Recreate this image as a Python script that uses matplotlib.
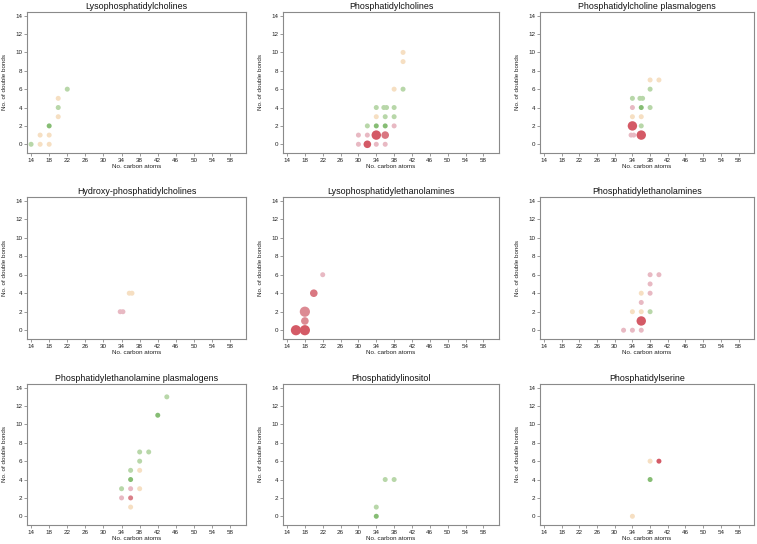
import matplotlib
matplotlib.use("Agg")
import matplotlib.pyplot as plt
from matplotlib.colors import LinearSegmentedColormap, Normalize
import numpy as np

plt.rcParams['font.family'] = ['Liberation Sans', 'DejaVu Sans']

titles = ["Lysophosphatidylcholines", "Phosphatidylcholines", "Phosphatidylcholine plasmalogens",
          "Hydroxy-phosphatidylcholines", "Lysophosphatidylethanolamines", "Phosphatidylethanolamines",
          "Phosphatidylethanolamine plasmalogens", "Phosphatidylinositol", "Phosphatidylserine"]

x_ticks = [14, 18, 22, 26, 30, 34, 38, 42, 46, 50, 54, 58]
y_ticks = [0, 2, 4, 6, 8, 10, 12, 14]

# Lysophosphatidylcholines
lpc_c = [14, 16, 18, 16, 18, 18, 20, 20, 20, 22]
lpc_db = [0, 0, 0, 1, 1, 2, 3, 4, 5, 6]
lpc_fc = [1, 0, 0, 0, 0, 2, 0, 1, 0, 1]
lpc_sig = [1, 1, 1, 1, 1, 1, 1, 1, 1, 1]

# Phosphatidylcholines
pc_c = [30, 32, 34, 36, 30, 32, 34, 36, 32, 34, 36, 38, 34, 36, 38, 34, 35.7, 36.3, 38, 38, 40, 40, 40]
pc_db = [0, 0, 0, 0, 1, 1, 1, 1, 2, 2, 2, 2, 3, 3, 3, 4, 4, 4, 4, 6, 6, 9, 10]
pc_fc = [-1, -2, -1, -1, -1, -1, -2, -1.7, 1, 2, 2, -1, 0, 1, 1, 1, 1, 1, 1, 0, 1, 0, 0]
pc_sig = [1, 2, 1, 1, 1, 1, 3, 2, 1, 1, 1, 1, 1, 1, 1, 1, 1, 1, 1, 1, 1, 1, 1]

# Phosphatidylcholine plasmalogens
pcp_c = [33.7, 34.3, 36, 34, 36, 34, 36, 34, 36, 38, 34, 35.7, 36.3, 38, 38, 40]
pcp_db = [1, 1, 1, 2, 2, 3, 3, 4, 4, 4, 5, 5, 5, 6, 7, 7]
pcp_fc = [-1, -1, -2, -2, 1, 0, 0, -1, 2, 1, 1, 1, 1, 1, 0, 0]
pcp_sig = [1, 1, 3, 3, 1, 1, 1, 1, 1, 1, 1, 1, 1, 1, 1, 1]

# Hydroxy-phosphatidylcholines
hpc_c = [33.7, 34.3, 35.7, 36.3]
hpc_db = [2, 2, 4, 4]
hpc_fc = [-1, -1, 0, 0]
hpc_sig = [1, 1, 1, 1]

# Lysophosphatidylethanolamines
lpe_c = [16, 18, 18, 18, 20, 22]
lpe_db = [0, 0, 1, 2, 4, 6]
lpe_fc = [-2, -2, -1.5, -1.5, -1.7, -1]
lpe_sig = [4, 4, 2, 4, 2, 1]

# Phosphatidylethanolamines
pe_c = [32, 34, 36, 36, 34, 36, 38, 36, 36, 38, 38, 38, 40]
pe_db = [0, 0, 0, 1, 2, 2, 2, 3, 4, 4, 5, 6, 6]
pe_fc = [-1, -1, -1, -2, 0, 0, 1, -1, 0, -1, -1, -1, -1]
pe_sig = [1, 1, 1, 3, 1, 1, 1, 1, 1, 1, 1, 1, 1]

# Phosphatidylethanolamine plasmalogens
pep_c = [36, 34, 36, 34, 36, 38, 36, 36, 38, 38, 38, 40, 42, 44]
pep_db = [1, 2, 2, 3, 3, 3, 4, 5, 5, 6, 7, 7, 11, 13]
pep_fc = [0, -1, -1.6, 1, -1, 0, 2, 1, 0, 1, 1, 1, 2, 1]
pep_sig = [1] * 14

# Phosphatidylinositol
pi_c = [34, 34, 36, 38]
pi_db = [0, 1, 4, 4]
pi_fc = [2, 1, 1, 1]
pi_sig = [1, 1, 1, 1]

# Phosphatidylserine
ps_c = [34, 38, 38, 40]
ps_db = [0, 4, 6, 6]
ps_fc = [0, 2, 0, -2]
ps_sig = [1, 1, 1, 1]

panels = [(lpc_c, lpc_db, lpc_fc, lpc_sig), (pc_c, pc_db, pc_fc, pc_sig), (pcp_c, pcp_db, pcp_fc, pcp_sig),
          (hpc_c, hpc_db, hpc_fc, hpc_sig), (lpe_c, lpe_db, lpe_fc, lpe_sig), (pe_c, pe_db, pe_fc, pe_sig),
          (pep_c, pep_db, pep_fc, pep_sig), (pi_c, pi_db, pi_fc, pi_sig), (ps_c, ps_db, ps_fc, ps_sig)]

cmap = LinearSegmentedColormap.from_list(
    "fc", [(0.0, "#d45a66"), (0.125, "#dc8a93"), (0.25, "#e8b9c3"), (0.5, "#f6dfc2"),
           (0.75, "#b9d7aa"), (1.0, "#86bd74")])
norm = Normalize(-2, 2)
size_map = {1: 13, 2: 30, 3: 46, 4: 54}

fig = plt.figure(figsize=(7.57, 5.44), dpi=100)
W, H = 757, 544
cols = [(27, 246), (283, 499), (540, 754)]
rows = [(12, 153), (197, 339), (384, 525)]
grey = "#8a8a8a"

for i, (title, (c, db, fc, sig)) in enumerate(zip(titles, panels)):
    r, k = divmod(i, 3)
    x0, x1 = cols[k]
    y0, y1 = rows[r]
    ax = fig.add_axes([x0 / W, 1 - y1 / H, (x1 - x0) / W, (y1 - y0) / H])
    sizes = [size_map[s] for s in sig]
    ax.scatter(c, db, s=sizes, c=fc, cmap=cmap, norm=norm, linewidths=0, zorder=3)
    ax.set_xticks(x_ticks)
    ax.set_yticks(y_ticks)
    ax.set_xlim(13.1, 61.5)
    ax.set_ylim(-0.95, 14.4)
    ax.tick_params(labelsize=4.5, length=2, width=0.6, color=grey, pad=1.5, labelcolor="#222222")
    for sp in ax.spines.values():
        sp.set_color(grey)
        sp.set_linewidth(0.8)
    ax.set_title(title, fontsize=6.4, pad=2, color="#111111")
    ax.set_xlabel("No. carbon atoms", fontsize=4.5, labelpad=1, color="#222222")
    ax.set_ylabel("No. of double bonds", fontsize=4.5, labelpad=6, color="#222222")

fig.savefig("out.png", dpi=100)
